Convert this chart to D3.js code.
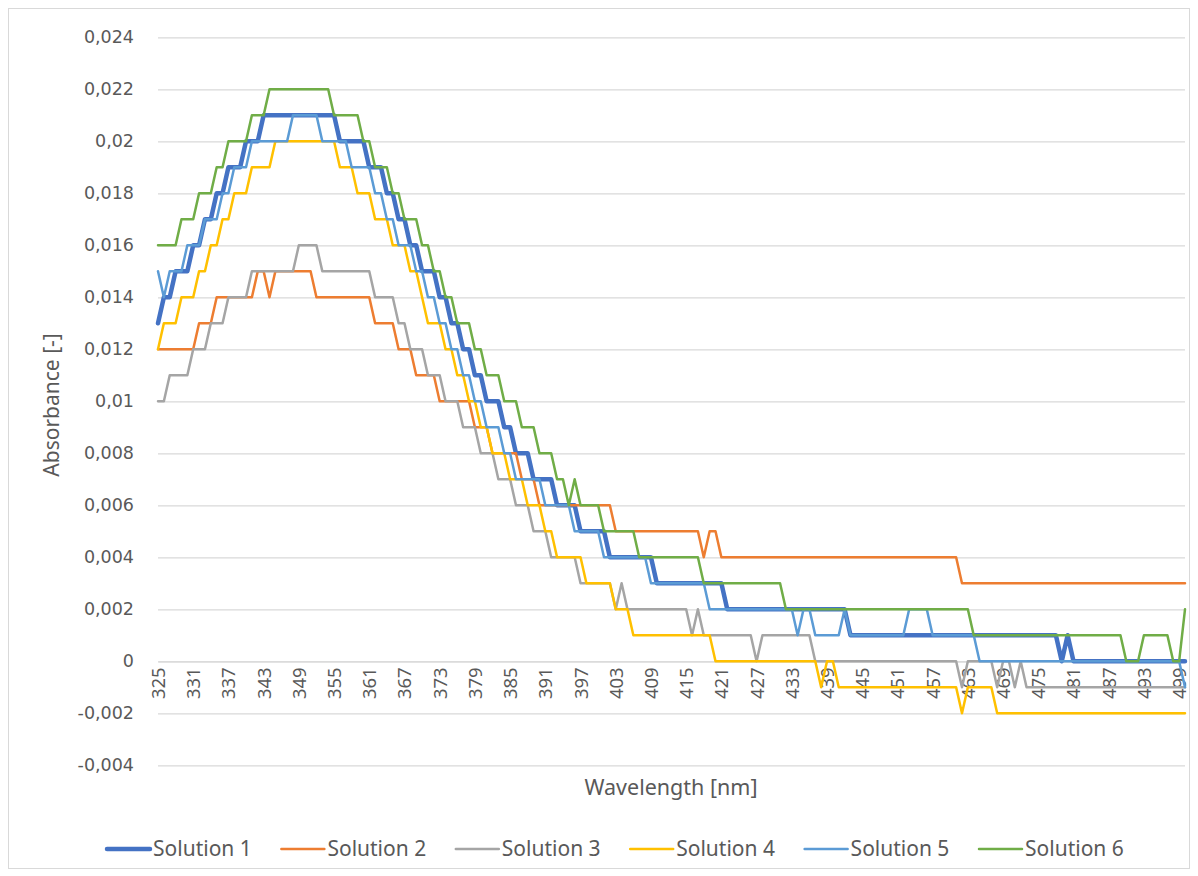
<!DOCTYPE html>
<html>
<head>
<meta charset="utf-8">
<script src="https://cdn.jsdelivr.net/npm/d3@7/dist/d3.min.js"></script>
<style>
  html, body { margin: 0; padding: 0; background: #ffffff; }
  svg { display: block; }
</style>
</head>
<body>
<script>
// Wavelength categories (nm), one reading per nanometre
const wavelengths = d3.range(325, 501);

// Absorbance readings, stored in thousandths (×1000), one row per 10 nm
const solution1 = [
  13,14,14,15,15,15,16,16,17,17,
  18,18,19,19,19,20,20,20,21,21,
  21,21,21,21,21,21,21,21,21,21,
  21,20,20,20,20,20,19,19,19,18,
  18,17,17,16,16,15,15,15,14,14,
  13,13,12,12,11,11,10,10,10,9,
  9,8,8,8,7,7,7,7,6,6,
  6,6,5,5,5,5,5,4,4,4,
  4,4,4,4,4,3,3,3,3,3,
  3,3,3,3,3,3,3,2,2,2,
  2,2,2,2,2,2,2,2,2,2,
  2,2,2,2,2,2,2,2,1,1,
  1,1,1,1,1,1,1,1,1,1,
  1,1,1,1,1,1,1,1,1,1,
  1,1,1,1,1,1,1,1,1,1,
  1,1,1,1,0,1,0,0,0,0,
  0,0,0,0,0,0,0,0,0,0,
  0,0,0,0,0,0
];
const solution2 = [
  12,12,12,12,12,12,12,13,13,13,
  14,14,14,14,14,14,14,15,15,14,
  15,15,15,15,15,15,15,14,14,14,
  14,14,14,14,14,14,14,13,13,13,
  13,12,12,12,11,11,11,11,10,10,
  10,10,10,10,9,9,9,8,8,8,
  8,8,7,7,7,6,6,6,6,6,
  6,6,6,6,6,6,6,6,5,5,
  5,5,5,5,5,5,5,5,5,5,
  5,5,5,4,5,5,4,4,4,4,
  4,4,4,4,4,4,4,4,4,4,
  4,4,4,4,4,4,4,4,4,4,
  4,4,4,4,4,4,4,4,4,4,
  4,4,4,4,4,4,4,3,3,3,
  3,3,3,3,3,3,3,3,3,3,
  3,3,3,3,3,3,3,3,3,3,
  3,3,3,3,3,3,3,3,3,3,
  3,3,3,3,3,3
];
const solution3 = [
  10,10,11,11,11,11,12,12,12,13,
  13,13,14,14,14,14,15,15,15,15,
  15,15,15,15,16,16,16,16,15,15,
  15,15,15,15,15,15,15,14,14,14,
  14,13,13,12,12,12,11,11,11,10,
  10,10,9,9,9,8,8,8,7,7,
  7,6,6,6,5,5,5,4,4,4,
  4,4,3,3,3,3,3,3,2,3,
  2,2,2,2,2,2,2,2,2,2,
  2,1,2,1,1,1,1,1,1,1,
  1,1,0,1,1,1,1,1,1,1,
  1,1,0,0,0,0,0,0,0,0,
  0,0,0,0,0,0,0,0,0,0,
  0,0,0,0,0,0,0,-1,0,0,
  0,0,0,-1,0,0,-1,0,-1,-1,
  -1,-1,-1,-1,-1,-1,-1,-1,-1,-1,
  -1,-1,-1,-1,-1,-1,-1,-1,-1,-1,
  -1,-1,-1,-1,-1,-1
];
const solution4 = [
  12,13,13,13,14,14,14,15,15,16,
  16,17,17,18,18,18,19,19,19,19,
  20,20,20,20,20,20,20,20,20,20,
  20,19,19,19,18,18,18,17,17,17,
  16,16,16,15,15,14,13,13,13,12,
  12,11,11,10,10,9,9,8,8,8,
  7,7,7,6,6,6,5,5,4,4,
  4,4,4,3,3,3,3,3,2,2,
  2,1,1,1,1,1,1,1,1,1,
  1,1,1,1,1,0,0,0,0,0,
  0,0,0,0,0,0,0,0,0,0,
  0,0,0,-1,0,0,-1,-1,-1,-1,
  -1,-1,-1,-1,-1,-1,-1,-1,-1,-1,
  -1,-1,-1,-1,-1,-1,-1,-2,-1,-1,
  -1,-1,-1,-2,-2,-2,-2,-2,-2,-2,
  -2,-2,-2,-2,-2,-2,-2,-2,-2,-2,
  -2,-2,-2,-2,-2,-2,-2,-2,-2,-2,
  -2,-2,-2,-2,-2,-2
];
const solution5 = [
  15,14,15,15,15,16,16,16,17,17,
  17,18,18,19,19,19,20,20,20,20,
  20,20,20,21,21,21,21,21,20,20,
  20,20,20,19,19,19,19,18,18,17,
  17,16,16,16,15,15,14,14,13,13,
  12,12,11,11,10,10,9,9,9,8,
  8,7,7,7,7,7,6,6,6,6,
  6,5,5,5,5,5,4,4,4,4,
  4,4,4,4,3,3,3,3,3,3,
  3,3,3,3,2,2,2,2,2,2,
  2,2,2,2,2,2,2,2,2,1,
  2,2,1,1,1,1,1,2,1,1,
  1,1,1,1,1,1,1,1,2,2,
  2,2,1,1,1,1,1,1,1,1,
  0,0,0,0,0,0,0,0,0,0,
  0,0,0,0,0,0,0,0,0,0,
  0,0,0,0,0,0,0,0,0,0,
  0,0,0,0,0,-1
];
const solution6 = [
  16,16,16,16,17,17,17,18,18,18,
  19,19,20,20,20,20,21,21,21,22,
  22,22,22,22,22,22,22,22,22,22,
  21,21,21,21,21,20,20,19,19,19,
  18,18,17,17,17,16,16,15,15,14,
  14,13,13,13,12,12,11,11,11,10,
  10,10,9,9,9,8,8,8,7,7,
  6,7,6,6,6,6,5,5,5,5,
  5,5,4,4,4,4,4,4,4,4,
  4,4,4,3,3,3,3,3,3,3,
  3,3,3,3,3,3,3,2,2,2,
  2,2,2,2,2,2,2,2,2,2,
  2,2,2,2,2,2,2,2,2,2,
  2,2,2,2,2,2,2,2,2,1,
  1,1,1,1,1,1,1,1,1,1,
  1,1,1,1,1,1,1,1,1,1,
  1,1,1,1,1,0,0,0,1,1,
  1,1,1,0,0,2
];

const seriesNames = ["Solution 1", "Solution 2", "Solution 3", "Solution 4", "Solution 5", "Solution 6"];
const seriesValues = [solution1, solution2, solution3, solution4, solution5, solution6];
const seriesColors = ["#4472C4", "#ED7D31", "#A5A5A5", "#FFC000", "#5B9BD5", "#70AD47"];
const seriesWidths = [4.5, 2.5, 2.5, 2.5, 2.5, 2.5];

// Axis ticks
const xTickLabels = [325,331,337,343,349,355,361,367,373,379,385,391,397,403,409,415,421,427,433,439,445,451,457,463,469,475,481,487,493,499];
const yTicks = [-0.004,-0.002,0,0.002,0.004,0.006,0.008,0.01,0.012,0.014,0.016,0.018,0.02,0.022,0.024];

const W = 1198, H = 876;
const plot = { left: 158, right: 1185, top: 37.3, bottom: 765.3 };
const textColor = "#595959";
const gridColor = "#D9D9D9";

const svg = d3.select("body").append("svg")
  .attr("width", W).attr("height", H)
  .attr("viewBox", `0 0 ${W} ${H}`);

// Chart frame
svg.append("rect")
  .attr("x", 8.5).attr("y", 8.5)
  .attr("width", 1181).attr("height", 860)
  .attr("fill", "#ffffff").attr("stroke", gridColor).attr("stroke-width", 1);

const x = d3.scalePoint().domain(wavelengths).range([plot.left, plot.right]);
const y = d3.scaleLinear().domain([-0.004, 0.024]).range([plot.bottom, plot.top]);

const commaLocale = d3.formatLocale({ decimal: ",", thousands: ".", grouping: [3], currency: ["", ""], minus: "-" });
const fmtY = commaLocale.format("~g");

// Horizontal gridlines and value labels
const yAxis = d3.axisLeft(y).tickValues(yTicks).tickSize(-(plot.right - plot.left)).tickPadding(24).tickFormat(fmtY);
const gy = svg.append("g").attr("transform", `translate(${plot.left},0)`).call(yAxis);
gy.select(".domain").remove();
gy.selectAll(".tick line").attr("stroke", gridColor).attr("stroke-width", 1.2);
gy.selectAll(".tick text")
  .attr("fill", textColor)
  .style("font-family", "'DejaVu Sans', sans-serif")
  .style("font-size", "17.5px");

// Category labels, rotated, hanging below the zero line
const xAxis = d3.axisBottom(x).tickValues(xTickLabels).tickSize(0).tickPadding(0);
const gx = svg.append("g").attr("transform", `translate(0,${y(0)})`).call(xAxis);
gx.select(".domain").attr("stroke", gridColor).attr("stroke-width", 1.2);
gx.selectAll(".tick text")
  .attr("fill", textColor)
  .attr("text-anchor", "end")
  .attr("dy", "0.35em")
  .attr("transform", "translate(0,6) rotate(-90)")
  .attr("x", 0).attr("y", 0)
  .style("font-family", "'Noto Sans', sans-serif")
  .style("font-size", "18.5px");

// Series lines
const line = d3.line()
  .x((d, i) => x(wavelengths[i]))
  .y(d => y(d / 1000));

svg.append("g").selectAll("path")
  .data(seriesValues)
  .join("path")
  .attr("d", d => line(d))
  .attr("fill", "none")
  .attr("stroke", (d, i) => seriesColors[i])
  .attr("stroke-width", (d, i) => seriesWidths[i])
  .attr("stroke-linejoin", "round")
  .attr("stroke-linecap", "round");

// Axis titles
svg.append("text")
  .attr("transform", "translate(59,405) rotate(-90)")
  .attr("text-anchor", "middle")
  .attr("fill", textColor)
  .style("font-family", "'Noto Sans', sans-serif")
  .style("font-size", "21px")
  .text("Absorbance [-]");

svg.append("text")
  .attr("x", 671).attr("y", 795)
  .attr("text-anchor", "middle")
  .attr("fill", textColor)
  .style("font-family", "'Noto Sans', sans-serif")
  .style("font-size", "21.5px")
  .text("Wavelength [nm]");

// Legend
const legend = svg.append("g").attr("transform", "translate(107,849)");
const item = legend.selectAll("g").data(seriesNames).join("g")
  .attr("transform", (d, i) => `translate(${i * 174.4},0)`);
item.append("line")
  .attr("x1", 0).attr("x2", 43).attr("y1", 0).attr("y2", 0)
  .attr("stroke", (d, i) => seriesColors[i])
  .attr("stroke-width", (d, i) => seriesWidths[i])
  .attr("stroke-linecap", "round");
item.append("text")
  .attr("x", 46).attr("y", 0).attr("dy", "0.35em")
  .attr("fill", textColor)
  .style("font-family", "'Noto Sans', sans-serif")
  .style("font-size", "21px")
  .text(d => d);
</script>
</body>
</html>
